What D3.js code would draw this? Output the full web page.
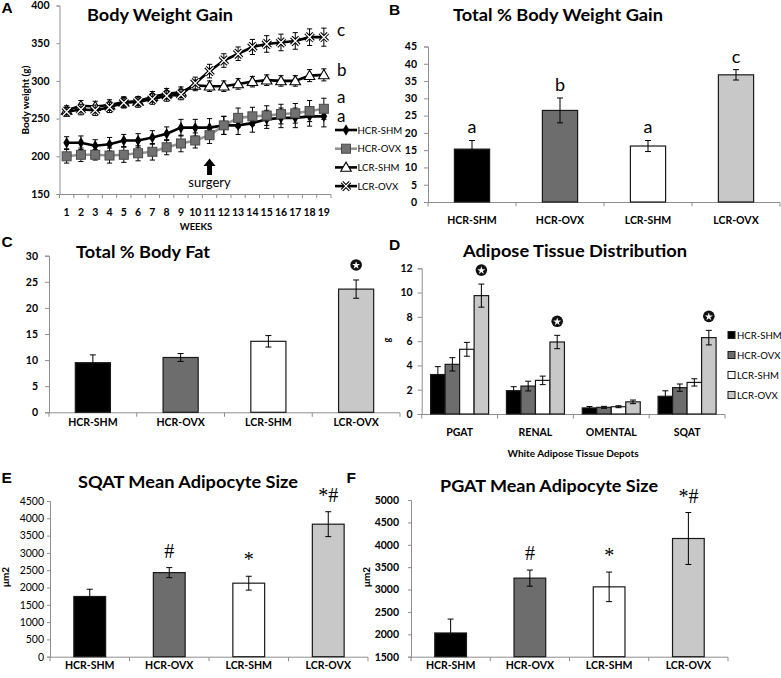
<!DOCTYPE html>
<html><head><meta charset="utf-8">
<script src="https://cdn.jsdelivr.net/npm/d3@7"></script>
<style>body{margin:0;background:#fff} svg{display:block;font-family:Lato,'Open Sans',sans-serif}</style>
</head><body><svg id="c" width="781" height="678"></svg>
<script>
// ---------- DATA ----------
const weeks = [1,2,3,4,5,6,7,8,9,10,11,12,13,14,15,16,17,18,19];
const weightTicks = [150,200,250,300,350,400];
const seriesNames = ["HCR-SHM","HCR-OVX","LCR-SHM","LCR-OVX"];
const hcrShmWeight = [218,218,214,216,221,221,225,230,238,238,238,241,241,244,249,251,251,253,253];
const hcrShmWeightErr = [8,9,8,9,8,9,9,9,11,11,12,12,12,12,12,13,13,13,14];
const hcrOvxWeight = [200,202,202,201,202,204,206,212,217,221,228,241,251,253,254,256,257,260,263];
const hcrOvxWeightErr = [9,9,7,10,10,10,11,10,11,10,11,12,13,12,13,13,13,14,14];
const lcrShmWeight = [261,267,266,268,272,273,279,283,285,294,293,293,296,299,301,300,300,307,308];
const lcrShmWeightErr = [6,7,7,7,7,6,7,7,7,7,7,7,7,7,7,7,7,8,8];
const lcrOvxWeight = [259,262,261,265,271,272,276,280,282,297,313,327,336,345,349,351,353,358,358];
const lcrOvxWeightErr = [6,7,7,7,7,7,7,7,7,8,9,9,9,10,11,11,11,11,12];
const weightLetters = ["a","a","b","c"]; // HCR-SHM, HCR-OVX, LCR-SHM, LCR-OVX
const surgeryWeek = 11;

const groups = ["HCR-SHM","HCR-OVX","LCR-SHM","LCR-OVX"];
const bwGain = [15.3, 26.5, 16.2, 36.8];
const bwGainErr = [2.5, 3.6, 1.6, 1.5];
const bwGainLetters = ["a","b","a","c"];
const bwGainTicks = [0,5,10,15,20,25,30,35,40,45];

const bodyFat = [9.5, 10.5, 13.6, 23.6];
const bodyFatErr = [1.5, 0.75, 1.1, 1.75];
const bodyFatStar = [false,false,false,true];
const bodyFatTicks = [0,5,10,15,20,25,30];

const depots = ["PGAT","RENAL","OMENTAL","SQAT"];
const adiposeHcrShm = [3.25, 1.92, 0.50, 1.46];
const adiposeHcrShmErr = [0.65, 0.33, 0.12, 0.45];
const adiposeHcrOvx = [4.09, 2.30, 0.55, 2.17];
const adiposeHcrOvxErr = [0.55, 0.40, 0.08, 0.30];
const adiposeLcrShm = [5.33, 2.77, 0.60, 2.60];
const adiposeLcrShmErr = [0.57, 0.35, 0.08, 0.30];
const adiposeLcrOvx = [9.75, 5.93, 1.00, 6.29];
const adiposeLcrOvxErr = [0.95, 0.55, 0.15, 0.60];
const adiposeStar = [true, true, false, true];
const adiposeTicks = [0,2,4,6,8,10,12];

const sqatSize = [1740, 2430, 2125, 3830];
const sqatSizeErr = [210, 145, 200, 360];
const sqatMarks = ["", "#", "*", "*#"];
const sqatTicks = [0,500,1000,1500,2000,2500,3000,3500,4000,4500];

const pgatSize = [2030, 3255, 3060, 4140];
const pgatSizeErr = [310, 180, 330, 580];
const pgatMarks = ["", "#", "*", "*#"];
const pgatTicks = [1500,2000,2500,3000,3500,4000,4500,5000];

// ---------- STYLE ----------
const AX = "#8e8e8e";
const FILL = ["#000000","#6d6d6d","#ffffff","#c8c8c8"];
const svg = d3.select("#c");
const FONT = "Lato,'Open Sans',sans-serif";
const fmt = d3.format("d");

function styleAxis(g, bold, size){
  g.attr("font-family", FONT).attr("font-size", size);
  g.select(".domain").attr("stroke", AX).attr("stroke-width",1);
  g.selectAll(".tick line").attr("stroke", AX);
  g.selectAll(".tick text").attr("fill","#000").attr("font-weight", bold?700:400);
}
function title(txt, x1, x2, base){
  svg.append("text").attr("x",x1).attr("y",base).attr("font-size",17.5).attr("font-weight",700)
    .attr("font-family",FONT).attr("textLength",x2-x1).attr("lengthAdjust","spacingAndGlyphs").text(txt);
}
function panelLetter(txt,x,base){
  svg.append("text").attr("x",x).attr("y",base).attr("font-family","'Liberation Sans',Arial,sans-serif")
    .attr("font-weight",700).attr("font-size",15.5).text(txt);
}
function errBar(g, x, yLo, yHi, cap){
  g.append("line").attr("x1",x).attr("x2",x).attr("y1",yLo).attr("y2",yHi).attr("stroke","#000").attr("stroke-width",1);
  g.append("line").attr("x1",x-cap).attr("x2",x+cap).attr("y1",yHi).attr("y2",yHi).attr("stroke","#000").attr("stroke-width",1);
  g.append("line").attr("x1",x-cap).attr("x2",x+cap).attr("y1",yLo).attr("y2",yLo).attr("stroke","#000").attr("stroke-width",1);
}
function starMark(g, cx, cy){
  g.append("circle").attr("cx",cx).attr("cy",cy).attr("r",5.8).attr("fill","#111");
  g.append("path").attr("d",d3.symbol(d3.symbolStar).size(20)()).attr("transform",`translate(${cx},${cy+0.4})`).attr("fill","#fff");
}
function catAxis(g, x, y0, labels, labelBase){
  const r = x.range();
  g.append("line").attr("x1",r[0]).attr("x2",r[1]).attr("y1",y0).attr("y2",y0).attr("stroke",AX);
  const edges = x.domain().map(d=>x(d) - x.paddingOuter()*x.step()).concat([r[1]]);
  edges.forEach(e=>g.append("line").attr("x1",e).attr("x2",e).attr("y1",y0).attr("y2",y0+4).attr("stroke",AX));
  labels.forEach(l=>g.append("text").attr("x",x(l)+x.bandwidth()/2).attr("y",labelBase).attr("text-anchor","middle")
     .attr("font-family",FONT).attr("font-weight",700).attr("font-size",10.5).text(l));
}

// ---------- PANEL A ----------
(function(){
  const g = svg.append("g");
  const x = d3.scaleBand().domain(weeks).range([59.5,331]);
  const y = d3.scaleLinear().domain([150,400]).range([194,5.5]);
  const cx = w => x(w)+x.bandwidth()/2;
  const ya = g.append("g").attr("transform","translate(59.5,0)")
    .call(d3.axisLeft(y).tickValues(weightTicks).tickSize(3).tickPadding(7).tickFormat(fmt));
  styleAxis(ya,true,10.5);
  g.append("line").attr("x1",59.5).attr("x2",331).attr("y1",194.5).attr("y2",194.5).attr("stroke",AX);
  weeks.concat(["end"]).forEach(w=>{
    const e = w==="end" ? x.range()[1] : x(w);
    g.append("line").attr("x1",e).attr("x2",e).attr("y1",194.5).attr("y2",198).attr("stroke",AX);
  });
  weeks.forEach(w=>g.append("text").attr("x",cx(w)).attr("y",215.5).attr("text-anchor","middle")
    .attr("font-family",FONT).attr("font-weight",700).attr("font-size",10.5).text(w));
  g.append("text").attr("x",196).attr("y",230).attr("text-anchor","middle").attr("font-family",FONT)
    .attr("font-weight",700).attr("font-size",9.5).text("WEEKS");
  g.append("text").attr("transform","translate(29,100) rotate(-90)").attr("text-anchor","middle")
    .attr("font-family",FONT).attr("font-weight",700).attr("font-size",10).text("Body weight (g)");

  const series = [
    {v:hcrShmWeight,e:hcrShmWeightErr,line:"#000",m:"diamond"},
    {v:hcrOvxWeight,e:hcrOvxWeightErr,line:"#939393",m:"square"},
    {v:lcrShmWeight,e:lcrShmWeightErr,line:"#000",m:"triangle"},
    {v:lcrOvxWeight,e:lcrOvxWeightErr,line:"#000",m:"x"}
  ];
  function marker(gg, type, px, py){
    if(type==="diamond") gg.append("path").attr("d",d3.symbol(d3.symbolDiamond).size(38)()).attr("transform",`translate(${px},${py})`).attr("fill","#000");
    if(type==="square") gg.append("rect").attr("x",px-4.5).attr("y",py-4.5).attr("width",9).attr("height",9).attr("fill","#717171").attr("stroke","#4a4a4a").attr("stroke-width",1);
    if(type==="triangle") gg.append("path").attr("d",d3.symbol(d3.symbolTriangle).size(48)()).attr("transform",`translate(${px},${py+0.8})`).attr("fill","#fff").attr("stroke","#000").attr("stroke-width",1.1);
    if(type==="x"){
      const d=`M${px-4},${py-4}L${px+4},${py+4}M${px+4},${py-4}L${px-4},${py+4}`;
      gg.append("path").attr("d",d).attr("stroke","#000").attr("stroke-width",3.4);
      gg.append("path").attr("d",d).attr("stroke","#fff").attr("stroke-width",1.3);
    }
  }
  series.forEach(s=>{
    const sg = g.append("g");
    weeks.forEach((w,i)=>errBar(sg,cx(w),y(s.v[i]-s.e[i]),y(s.v[i]+s.e[i]),2.6));
    sg.append("path").datum(weeks).attr("fill","none").attr("stroke",s.line).attr("stroke-width",2.6)
      .attr("d",d3.line().x(w=>cx(w)).y((w,i)=>y(s.v[i])));
    weeks.forEach((w,i)=>marker(sg,s.m,cx(w),y(s.v[i])));
  });
  // significance letters at the end of each line
  const letterOffset = [6, -5.5, 1.5, -1.5];
  series.forEach((s,i)=>{
    g.append("text").attr("x",337).attr("y",y(s.v[s.v.length-1])+letterOffset[i]).attr("font-family",FONT)
      .attr("font-size",17).text(weightLetters[i]);
  });
  // surgery arrow
  const sx = cx(surgeryWeek);
  g.append("path").attr("d",`M${sx-2.5},175 L${sx-2.5},166 L${sx-6},166 L${sx},158.5 L${sx+6},166 L${sx+2.5},166 L${sx+2.5},175 Z`).attr("fill","#000");
  g.append("text").attr("x",sx).attr("y",187).attr("text-anchor","middle").attr("font-family",FONT)
    .attr("font-size",13).text("surgery");
  // legend
  seriesNames.forEach((n,i)=>{
    const ly = 130 + i*18.7;
    const lg = g.append("g");
    lg.append("line").attr("x1",335).attr("x2",357).attr("y1",ly).attr("y2",ly).attr("stroke",series[i].line).attr("stroke-width",2.6);
    marker(lg, series[i].m, 346, ly);
    lg.append("text").attr("x",357.5).attr("y",ly+3.6).attr("font-family",FONT).attr("font-size",9.6).text(n);
  });
  title("Body Weight Gain", 87, 233, 21);
  panelLetter("A", 1.5, 12.7);
})();

// ---------- generic bar panel ----------
function barPanel(o){
  const g = svg.append("g");
  const x = d3.scaleBand().domain(o.cats).range([o.x0,o.x1]).paddingInner(0.6).paddingOuter(0.3);
  const y = d3.scaleLinear().domain(o.domain).range([o.yb,o.yt]);
  const ya = g.append("g").attr("transform",`translate(${o.x0},0)`)
    .call(d3.axisLeft(y).tickValues(o.ticks).tickSize(o.tickSize).tickPadding(o.tickPad).tickFormat(fmt));
  styleAxis(ya,o.bold,10.5);
  catAxis(g, x, o.yb+0.5, o.cats, o.labelBase);
  o.cats.forEach((c,i)=>{
    const bx = x(c), bw = x.bandwidth();
    g.append("rect").attr("x",bx).attr("y",y(o.vals[i])).attr("width",bw).attr("height",y(o.domain[0])-y(o.vals[i]))
      .attr("fill",FILL[i]).attr("stroke","#1a1a1a").attr("stroke-width",1.2);
    errBar(g, bx+bw/2, y(o.vals[i]-o.errs[i]), y(o.vals[i]+o.errs[i]), 3);
    const top = y(o.vals[i]+o.errs[i]);
    if(o.letters && o.letters[i]) g.append("text").attr("x",bx+bw/2).attr("y",top-7).attr("text-anchor","middle")
        .attr("font-family",FONT).attr("font-size",18).text(o.letters[i]);
    if(o.stars && o.stars[i]) starMark(g, bx+bw/2, top-15);
    if(o.marks && o.marks[i]){
      g.append("text").attr("x",bx+bw/2).attr("y",top-10).attr("text-anchor","middle").attr("fill","#000")
        .attr("font-family","'Liberation Serif','DejaVu Serif',serif").attr("font-size",20).text(o.marks[i]);
    }
  });
  return g;
}

// ---------- PANEL B ----------
barPanel({cats:groups, vals:bwGain, errs:bwGainErr, x0:428, x1:780, yb:202, yt:46.5, domain:[0,45], ticks:bwGainTicks,
  tickSize:4, tickPad:7, bold:true, labelBase:224, letters:bwGainLetters});
title("Total % Body Weight Gain", 453, 663, 21);
panelLetter("B", 389, 15);

// ---------- PANEL C ----------
barPanel({cats:groups, vals:bodyFat, errs:bodyFatErr, x0:49, x1:400, yb:412.3, yt:255.7, domain:[0,30], ticks:bodyFatTicks,
  tickSize:4, tickPad:7, bold:true, labelBase:425.5, stars:bodyFatStar});
title("Total % Body Fat", 76, 210, 257.7);
panelLetter("C", 1.5, 247);

// ---------- PANEL D ----------
(function(){
  const g = svg.append("g");
  const x = d3.scaleBand().domain(depots).range([421.7,725]).paddingInner(0.235).paddingOuter(0.1175);
  const xi = d3.scaleBand().domain(groups).range([0,x.bandwidth()]);
  const y = d3.scaleLinear().domain([0,12]).range([414,268.3]);
  const ya = g.append("g").attr("transform","translate(421.7,0)")
    .call(d3.axisLeft(y).tickValues(adiposeTicks).tickSize(4).tickPadding(5).tickFormat(fmt));
  styleAxis(ya,true,10.5);
  catAxis(g, x, 414.5, depots, 436);
  const vals = [adiposeHcrShm, adiposeHcrOvx, adiposeLcrShm, adiposeLcrOvx];
  const errs = [adiposeHcrShmErr, adiposeHcrOvxErr, adiposeLcrShmErr, adiposeLcrOvxErr];
  depots.forEach((d,j)=>{
    groups.forEach((s,i)=>{
      const bx = x(d)+xi(s), bw = xi.bandwidth();
      g.append("rect").attr("x",bx).attr("y",y(vals[i][j])).attr("width",bw).attr("height",y(0)-y(vals[i][j]))
        .attr("fill",FILL[i]).attr("stroke","#1a1a1a").attr("stroke-width",1.2);
      errBar(g, bx+bw/2, y(vals[i][j]-errs[i][j]), y(vals[i][j]+errs[i][j]), 3);
      if(i===3 && adiposeStar[j]) starMark(g, bx+bw/2, y(vals[i][j]+errs[i][j])-14);
    });
  });
  groups.forEach((s,i)=>{
    const ly = 335 + i*20;
    g.append("rect").attr("x",728).attr("y",ly-3.5).attr("width",7).attr("height",7).attr("fill",FILL[i]).attr("stroke","#1a1a1a").attr("stroke-width",1);
    g.append("text").attr("x",737).attr("y",ly+3.6).attr("font-family",FONT).attr("font-size",9.6).text(s);
  });
  g.append("text").attr("transform","translate(390,340) rotate(-90)").attr("text-anchor","middle")
    .attr("font-family",FONT).attr("font-weight",700).attr("font-size",9).text("g");
  g.append("text").attr("x",573).attr("y",457).attr("text-anchor","middle").attr("font-family",FONT)
    .attr("font-weight",700).attr("font-size",10).text("White Adipose Tissue Depots");
})();
title("Adipose Tissue Distribution", 463, 687, 256.7);
panelLetter("D", 389, 250);

// ---------- PANEL E ----------
barPanel({cats:groups, vals:sqatSize, errs:sqatSizeErr, x0:50, x1:368, yb:656.7, yt:501, domain:[0,4500], ticks:sqatTicks,
  tickSize:3, tickPad:3, bold:false, labelBase:669, marks:sqatMarks});
title("SQAT Mean Adipocyte Size", 78, 298, 488.3);
panelLetter("E", 1.5, 483);
svg.append("text").attr("transform","translate(8.5,577) rotate(-90)").attr("text-anchor","middle")
  .attr("font-family",FONT).attr("font-weight",700).attr("font-size",10).text("μm2");

// ---------- PANEL F ----------
barPanel({cats:groups, vals:pgatSize, errs:pgatSizeErr, x0:411, x1:728, yb:656.7, yt:500, domain:[1500,5000], ticks:pgatTicks,
  tickSize:3, tickPad:9, bold:true, labelBase:669, marks:pgatMarks});
title("PGAT Mean Adipocyte Size", 440, 658, 491.7);
panelLetter("F", 346.5, 483);
svg.append("text").attr("transform","translate(370,577) rotate(-90)").attr("text-anchor","middle")
  .attr("font-family",FONT).attr("font-weight",700).attr("font-size",10).text("μm2");
</script></body></html>
